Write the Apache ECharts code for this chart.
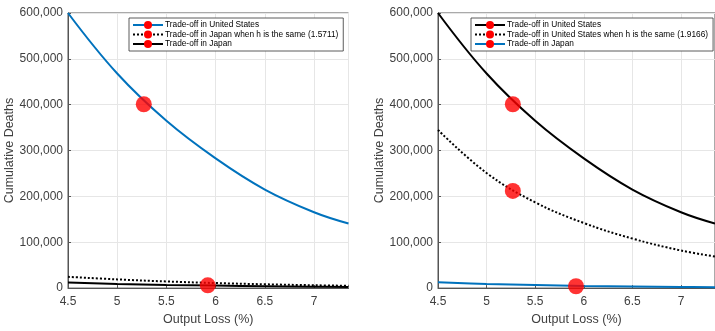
<!DOCTYPE html>
<html><head><meta charset="utf-8">
<script src="https://cdn.jsdelivr.net/npm/echarts@6/dist/echarts.min.js"></script>
<style>html,body{margin:0;padding:0;background:#fff}#c{width:715px;height:331px}</style>
</head><body><div id="c"></div>
<script>
// Output loss (%) sample points
const xs = [4.5, 5.0, 5.5, 6.0, 6.5, 7.0, 7.35];
// Left panel
const usLeft = [600000, 468000, 365000, 283000, 215000, 165500, 141000];
const jpSameHLeft = [24600, 19000, 14500, 11000, 8300, 6200, 5000];
const jpLeft = [12000, 9200, 7000, 5400, 4100, 3100, 2600];
const usDotLeft = [5.27, 401000];
const jpDotLeft = [5.92, 6000];
// Right panel
const usRight = [600000, 468000, 365000, 283000, 215000, 165500, 141000];
const usSameHRight = [345000, 251000, 187000, 142000, 108000, 82000, 69000];
const jpRight = [12500, 9000, 6500, 4700, 3400, 2500, 2000];
const usDotRight1 = [5.27, 401000];
const usDotRight2 = [5.27, 212000];
const jpDotRight = [5.92, 4000];
const yTicks = [0, 100000, 200000, 300000, 400000, 500000, 600000];
const legendLeft = ['Trade-off in United States', 'Trade-off in Japan when h is the same (1.5711)', 'Trade-off in Japan'];
const legendRight = ['Trade-off in United States', 'Trade-off in United States when h is the same (1.9166)', 'Trade-off in Japan'];

const BLUE = '#0072BD', BLACK = '#000000', RED = '#FF0000';
const pair = (a) => xs.map((x, i) => [x, a[i]]);
const font = 'Liberation Sans, Arial, sans-serif';
const TXT = '#404040';

function xAxis(gi) {
  return {
    type: 'value', gridIndex: gi, min: 4.5, max: 7.35, interval: 0.5,
    name: 'Output Loss (%)', nameLocation: 'middle', nameGap: 23,
    nameTextStyle: {fontFamily: font, fontSize: 12.5, color: TXT},
    axisLine: {show: true, lineStyle: {color: '#555', width: 1}},
    axisTick: {show: true, inside: true, length: 3, lineStyle: {color: '#555'}},
    axisLabel: {fontFamily: font, fontSize: 12, color: TXT, margin: 8, showMaxLabel: false,
      formatter: v => String(+v.toFixed(2))},
    splitLine: {show: true, lineStyle: {color: '#e6e6e6', width: 1}}
  };
}
function yAxis(gi) {
  return {
    type: 'value', gridIndex: gi, min: 0, max: 600000, interval: 100000,
    name: 'Cumulative Deaths', nameLocation: 'middle', nameGap: 47,
    nameTextStyle: {fontFamily: font, fontSize: 12.5, color: TXT},
    axisLine: {show: true, lineStyle: {color: '#555', width: 1}},
    axisTick: {show: true, inside: true, length: 3, lineStyle: {color: '#555'}},
    axisLabel: {fontFamily: font, fontSize: 12, color: TXT, margin: 5,
      formatter: v => yTicks.includes(v) ? v.toLocaleString('en-US') : ''},
    splitLine: {show: true, lineStyle: {color: '#e6e6e6', width: 1}}
  };
}
function lineSeries(name, gi, data, color, type) {
  return {
    type: 'line', name: name, xAxisIndex: gi, yAxisIndex: gi, data: pair(data),
    smooth: 0.4, symbol: 'circle', symbolSize: 10, showSymbol: false,
    itemStyle: {color: RED}, lineStyle: {color: color, width: 2, type: type},
    emphasis: {disabled: true}, z: 3
  };
}
function dot(gi, p) {
  return {type: 'scatter', xAxisIndex: gi, yAxisIndex: gi, data: [p], symbol: 'circle',
    symbolSize: 16, itemStyle: {color: RED}, z: 5, silent: true};
}
const legendBase = {
  orient: 'vertical', backgroundColor: '#fff', borderColor: '#333', borderWidth: 0.8,
  padding: [3, 5, 3, 3], itemGap: 1.5, itemWidth: 30, itemHeight: 10, borderRadius: 0,
  textStyle: {fontFamily: font, fontSize: 8.3, color: '#000', padding: [0, 0, 0, -3]},
  formatter: n => n.split('|')[1], selectedMode: false
};
const option = {
  animation: false,
  grid: [
    {left: 68, right: 366.5, top: 13, bottom: 34, show: true, borderColor: '#555', borderWidth: 1},
    {left: 438, right: -4, top: 13, bottom: 34, show: true, borderColor: '#555', borderWidth: 1}
  ],
  xAxis: [xAxis(0), xAxis(1)],
  yAxis: [yAxis(0), yAxis(1)],
  legend: [
    Object.assign({}, legendBase, {left: 129, top: 18, data: legendLeft.map(n => 'L|' + n)}),
    Object.assign({}, legendBase, {left: 471, top: 18, data: legendRight.map(n => 'R|' + n)})
  ],
  series: [
    lineSeries('L|' + legendLeft[0], 0, usLeft, BLUE, 'solid'),
    lineSeries('L|' + legendLeft[1], 0, jpSameHLeft, BLACK, 'dotted'),
    lineSeries('L|' + legendLeft[2], 0, jpLeft, BLACK, 'solid'),
    dot(0, usDotLeft), dot(0, jpDotLeft),
    lineSeries('R|' + legendRight[0], 1, usRight, BLACK, 'solid'),
    lineSeries('R|' + legendRight[1], 1, usSameHRight, BLACK, 'dotted'),
    lineSeries('R|' + legendRight[2], 1, jpRight, BLUE, 'solid'),
    dot(1, usDotRight1), dot(1, usDotRight2), dot(1, jpDotRight)
  ]
};
echarts.init(document.getElementById('c'), null, {renderer: 'canvas'}).setOption(option);
</script></body></html>
